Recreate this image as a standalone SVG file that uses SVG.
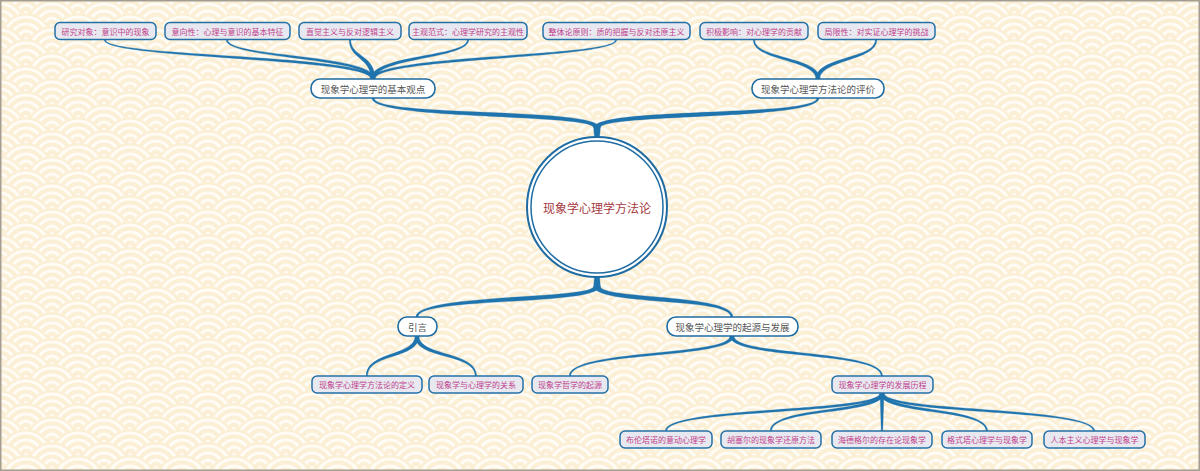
<svg xmlns="http://www.w3.org/2000/svg" xmlns:xlink="http://www.w3.org/1999/xlink" width="1200" height="471" viewBox="0 0 1200 471">
<defs>
<style>
text{font-family:"Noto Sans CJK SC","Noto Sans",sans-serif;text-anchor:middle;dominant-baseline:central}
.leaf rect{fill:#e8e9f0;stroke:#2370a8;stroke-width:1.5}
.leaf text{font-size:8px;fill:#c13f8c}
.main rect{fill:#ffffff;stroke:#1f6ca3;stroke-width:1.6}
.main text{font-size:9.5px;fill:#555555}
#connectors path{fill:#2074ad;stroke:#2074ad;stroke-width:0.3;stroke-linejoin:round}
</style>
<g id="w">
<circle r="26" fill="#fbefd6"/>
<circle r="22" fill="none" stroke="#fffcf6" stroke-width="3.2"/>
<circle r="15" fill="none" stroke="#fffcf6" stroke-width="3.2"/>
<circle r="8" fill="none" stroke="#fffcf6" stroke-width="3.2"/>
<circle r="2" fill="#fffcf6"/>
</g>
<pattern id="sea" patternUnits="userSpaceOnUse" width="52" height="26">
<rect width="52" height="26" fill="#fbefd6"/>
<use xlink:href="#w" href="#w" x="26" y="13"/>
<use xlink:href="#w" href="#w" x="0" y="26"/>
<use xlink:href="#w" href="#w" x="52" y="26"/>
<use xlink:href="#w" href="#w" x="26" y="39"/>
</pattern>
</defs>
<rect x="0" y="0" width="1200" height="471" fill="url(#sea)"/>
<rect x="0.75" y="0.75" width="1198.5" height="469.5" fill="none" stroke="#a39d92" stroke-width="1.5"/>

<g id="connectors">
<path d="M593.5,126 L600.5,126 L599.5,138 L594.5,138 Z"/>
<path d="M594.5,276 L599.5,276 L600.5,288 L593.5,288 Z"/>
<path d="M600,128 C600,106.8 374.1,117.4 374.1,98 L371.9,98 C371.9,120.6 594,113.2 594,128 Z"/>
<path d="M600,128 C600,113.2 819.1,120.6 819.1,98 L816.9,98 C816.9,117.4 594,106.8 594,128 Z"/>
<path d="M594,286 C594,299.8 415.9,293.4 415.9,317 L418.1,317 C418.1,296.6 600,306.2 600,286 Z"/>
<path d="M594,286 C594,306.2 730.9,296.6 730.9,317 L733.1,317 C733.1,293.4 600,299.8 600,286 Z"/>

<path d="M375,79 C375,54.3 105.75,57.1 105.75,40 L104.25,40 C104.25,58.9 371,57.7 371,79 Z"/>
<path d="M375,79 C375,54.3 227.75,57.1 227.75,40 L226.25,40 C226.25,58.9 371,57.7 371,79 Z"/>
<path d="M375,79 C375,54.3 350.75,57.1 350.75,40 L349.25,40 C349.25,58.9 371,57.7 371,79 Z"/>
<path d="M375,79 C375,57.7 468.75,58.9 468.75,40 L467.25,40 C467.25,57.1 371,54.3 371,79 Z"/>
<path d="M375,79 C375,57.7 616.75,58.9 616.75,40 L615.25,40 C615.25,57.1 371,54.3 371,79 Z"/>

<path d="M820,79 C820,56.3 754.75,59.1 754.75,40 L753.25,40 C753.25,60.9 816,59.7 816,79 Z"/>
<path d="M820,79 C820,59.7 876.75,60.9 876.75,40 L875.25,40 C875.25,59.1 816,56.3 816,79 Z"/>

<path d="M415,336 C415,356.3 366.25,351.1 366.25,376 L367.75,376 C367.75,352.9 419,359.7 419,336 Z"/>
<path d="M415,336 C415,359.7 475.25,352.9 475.25,376 L476.75,376 C476.75,351.1 419,356.3 419,336 Z"/>

<path d="M730,336 C730,356.3 569.25,349.1 569.25,376 L570.75,376 C570.75,350.9 734,359.7 734,336 Z"/>
<path d="M730,336 C730,359.7 881.25,350.9 881.25,376 L882.75,376 C882.75,349.1 734,356.3 734,336 Z"/>

<path d="M880,393 C880,412.3 665.25,406.1 665.25,431 L666.75,431 C666.75,407.9 884,415.7 884,393 Z"/>
<path d="M880,393 C880,412.3 770.25,406.1 770.25,431 L771.75,431 C771.75,407.9 884,415.7 884,393 Z"/>
<path d="M880,393 L881.25,431 L882.75,431 L884,393 Z"/>
<path d="M880,393 C880,415.7 986.25,407.9 986.25,431 L987.75,431 C987.75,406.1 884,412.3 884,393 Z"/>
<path d="M880,393 C880,415.7 1093.25,407.9 1093.25,431 L1094.75,431 C1094.75,406.1 884,412.3 884,393 Z"/>
</g>

<g id="center">
<circle cx="597" cy="207" r="70" fill="#ffffff" stroke="#1f6ca3" stroke-width="2"/>
<circle cx="597" cy="207" r="66" fill="#ffffff" stroke="#1f6ca3" stroke-width="1.5"/>
<text x="597" y="207" font-size="12" fill="#a63a42">现象学心理学方法论</text>
</g>

<g id="n-basic" class="main"><rect x="311" y="79" width="124" height="19" rx="9"/><text x="373" y="88.5">现象学心理学的基本观点</text></g>
<g id="n-eval" class="main"><rect x="752" y="79" width="132" height="19" rx="9"/><text x="818" y="88.5">现象学心理学方法论的评价</text></g>
<g id="n-intro" class="main"><rect x="398" y="317" width="39" height="19" rx="9"/><text x="417.5" y="326.5">引言</text></g>
<g id="n-origin" class="main"><rect x="667" y="317" width="131" height="19" rx="9"/><text x="732.5" y="326.5">现象学心理学的起源与发展</text></g>

<g id="l1" class="leaf"><rect x="55" y="22.5" width="101" height="17" rx="5"/><text x="105.5" y="31">研究对象：意识中的现象</text></g>
<g id="l2" class="leaf"><rect x="165" y="22.5" width="125" height="17" rx="5"/><text x="227.5" y="31">意向性：心理与意识的基本特征</text></g>
<g id="l3" class="leaf"><rect x="299" y="22.5" width="102" height="17" rx="5"/><text x="350" y="31">直觉主义与反对逻辑主义</text></g>
<g id="l4" class="leaf"><rect x="409" y="22.5" width="118" height="17" rx="5"/><text x="468" y="31">主观范式：心理学研究的主观性</text></g>
<g id="l5" class="leaf"><rect x="543" y="22.5" width="147" height="17" rx="5"/><text x="616.5" y="31">整体论原则：质的把握与反对还原主义</text></g>
<g id="l6" class="leaf"><rect x="700" y="22.5" width="108" height="17" rx="5"/><text x="754" y="31">积极影响：对心理学的贡献</text></g>
<g id="l7" class="leaf"><rect x="818" y="22.5" width="117" height="17" rx="5"/><text x="876.5" y="31">局限性：对实证心理学的挑战</text></g>

<g id="l8" class="leaf"><rect x="312" y="376" width="110" height="17" rx="5"/><text x="367" y="384.5">现象学心理学方法论的定义</text></g>
<g id="l9" class="leaf"><rect x="429" y="376" width="94" height="17" rx="5"/><text x="476" y="384.5">现象学与心理学的关系</text></g>
<g id="l10" class="leaf"><rect x="532" y="376" width="76" height="17" rx="5"/><text x="570" y="384.5">现象学哲学的起源</text></g>
<g id="l11" class="leaf"><rect x="832" y="376" width="101" height="17" rx="5"/><text x="882.5" y="384.5">现象学心理学的发展历程</text></g>

<g id="l12" class="leaf"><rect x="620" y="431" width="92" height="17" rx="5"/><text x="666" y="439.5">布伦塔诺的意动心理学</text></g>
<g id="l13" class="leaf"><rect x="721" y="431" width="100" height="17" rx="5"/><text x="771" y="439.5">胡塞尔的现象学还原方法</text></g>
<g id="l14" class="leaf"><rect x="832" y="431" width="100" height="17" rx="5"/><text x="882" y="439.5">海德格尔的存在论现象学</text></g>
<g id="l15" class="leaf"><rect x="942" y="431" width="90" height="17" rx="5"/><text x="987" y="439.5">格式塔心理学与现象学</text></g>
<g id="l16" class="leaf"><rect x="1044" y="431" width="101" height="17" rx="5"/><text x="1094.5" y="439.5">人本主义心理学与现象学</text></g>
</svg>
